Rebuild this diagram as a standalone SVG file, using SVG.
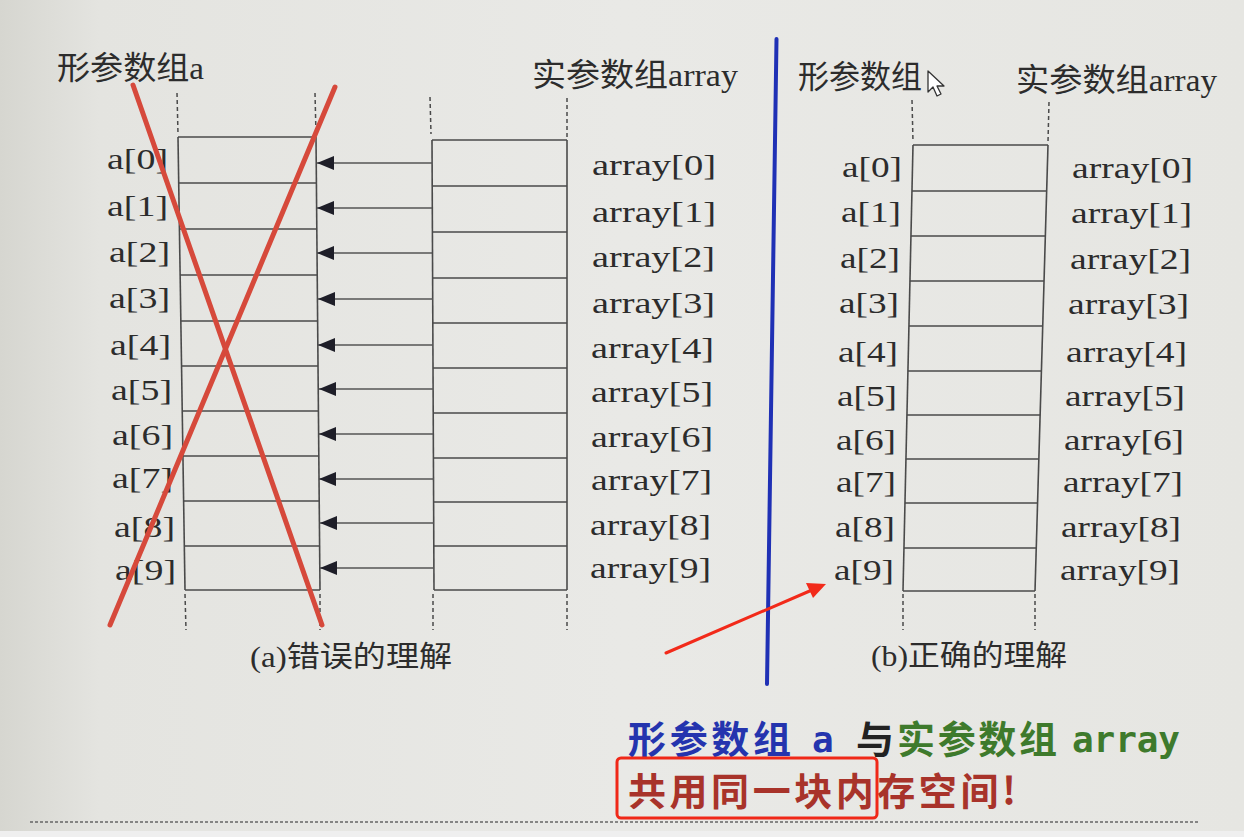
<svg xmlns="http://www.w3.org/2000/svg" width="1244" height="837" viewBox="0 0 1244 837">
<defs>
<linearGradient id="bg" x1="0" y1="0" x2="1" y2="0">
<stop offset="0" stop-color="#d6d6d0"/>
<stop offset="0.08" stop-color="#e4e4e0"/>
<stop offset="0.5" stop-color="#e9e9e6"/>
<stop offset="1" stop-color="#e6e6e2"/>
</linearGradient>
<marker id="tri" markerWidth="17" markerHeight="14" refX="17" refY="7" orient="auto" markerUnits="userSpaceOnUse">
<path d="M0,0 L17,7 L0,14 z" fill="#1e1e28"/>
</marker>
</defs>
<style>
.t{font-family:"Liberation Serif","Noto Sans CJK SC",serif;fill:#2c2c2c}
.h{font-size:32px}
.lb{font-size:30px}
.cap{font-size:29px}
.ln{stroke:#4a4a4a;stroke-width:1.6;fill:none}
.ds{stroke:#4a4a4a;stroke-width:1.5;stroke-dasharray:4 3;fill:none}
.ar{stroke:#555;stroke-width:1.3;fill:none}
.x{stroke:#d6493b;stroke-width:5;stroke-linecap:round}
.big{font-family:"Noto Sans CJK SC",sans-serif;font-weight:bold;font-size:38px}
.mono{font-family:"DejaVu Sans Mono","Liberation Mono",monospace;font-weight:bold;font-size:36px}
</style>
<rect x="0" y="0" width="1244" height="837" fill="url(#bg)"/>
<rect x="0" y="831" width="1244" height="6" fill="#efefef"/>

<!-- Diagram (a) -->
<g id="a-header">
<text class="t h" x="57" y="79" textLength="147" lengthAdjust="spacingAndGlyphs">形参数组a</text>
<text class="t h" x="532" y="86" textLength="206" lengthAdjust="spacingAndGlyphs">实参数组array</text>
</g>
<g id="a-formal-column">
<line class="ds" x1="177" y1="93" x2="178" y2="134"/>
<line class="ds" x1="315" y1="93" x2="316" y2="134"/>
<line class="ds" x1="185" y1="594" x2="186" y2="630"/>
<line class="ds" x1="320" y1="594" x2="320" y2="630"/>
<line class="ln" x1="178" y1="137" x2="185" y2="590"/>
<line class="ln" x1="316" y1="137" x2="320" y2="590"/>
<line class="ln" x1="178" y1="137" x2="316" y2="137"/>
<line class="ln" x1="178.7" y1="183" x2="316.4" y2="183"/>
<line class="ln" x1="179.4" y1="229" x2="316.8" y2="229"/>
<line class="ln" x1="180.1" y1="275" x2="317.2" y2="275"/>
<line class="ln" x1="180.8" y1="321" x2="317.6" y2="321"/>
<line class="ln" x1="181.5" y1="366" x2="318" y2="366"/>
<line class="ln" x1="182.2" y1="411" x2="318.4" y2="411"/>
<line class="ln" x1="182.9" y1="456" x2="318.8" y2="456"/>
<line class="ln" x1="183.6" y1="501" x2="319.2" y2="501"/>
<line class="ln" x1="184.3" y1="546" x2="319.6" y2="546"/>
<line class="ln" x1="185" y1="590" x2="320" y2="590"/>
</g>
<g id="a-actual-column">
<line class="ds" x1="430" y1="97" x2="431" y2="134"/>
<line class="ds" x1="567" y1="98" x2="567" y2="137"/>
<line class="ds" x1="433" y1="594" x2="433" y2="630"/>
<line class="ds" x1="567" y1="594" x2="567" y2="630"/>
<line class="ln" x1="432" y1="140" x2="434" y2="590"/>
<line class="ln" x1="567" y1="140" x2="567" y2="590"/>
<line class="ln" x1="432" y1="140" x2="567" y2="140"/>
<line class="ln" x1="432" y1="186" x2="567" y2="186"/>
<line class="ln" x1="432" y1="232" x2="567" y2="232"/>
<line class="ln" x1="433" y1="278" x2="567" y2="278"/>
<line class="ln" x1="433" y1="323" x2="567" y2="323"/>
<line class="ln" x1="433" y1="368" x2="567" y2="368"/>
<line class="ln" x1="433" y1="413" x2="567" y2="413"/>
<line class="ln" x1="433" y1="458" x2="567" y2="458"/>
<line class="ln" x1="434" y1="502" x2="567" y2="502"/>
<line class="ln" x1="434" y1="546" x2="567" y2="546"/>
<line class="ln" x1="434" y1="590" x2="567" y2="590"/>
</g>
<g id="a-connectors">
<line class="ar" x1="432" y1="163" x2="317" y2="163" marker-end="url(#tri)"/>
<line class="ar" x1="432" y1="208" x2="317" y2="208" marker-end="url(#tri)"/>
<line class="ar" x1="432" y1="253" x2="317" y2="253" marker-end="url(#tri)"/>
<line class="ar" x1="433" y1="299" x2="318" y2="299" marker-end="url(#tri)"/>
<line class="ar" x1="433" y1="345" x2="318" y2="345" marker-end="url(#tri)"/>
<line class="ar" x1="433" y1="389" x2="319" y2="389" marker-end="url(#tri)"/>
<line class="ar" x1="433" y1="434" x2="319" y2="434" marker-end="url(#tri)"/>
<line class="ar" x1="434" y1="479" x2="319" y2="479" marker-end="url(#tri)"/>
<line class="ar" x1="434" y1="523" x2="320" y2="523" marker-end="url(#tri)"/>
<line class="ar" x1="434" y1="568" x2="320" y2="568" marker-end="url(#tri)"/>
</g>
<g id="a-formal-labels">
<text class="t lb" x="107" y="169" textLength="61" lengthAdjust="spacingAndGlyphs">a[0]</text>
<text class="t lb" x="107" y="216" textLength="61" lengthAdjust="spacingAndGlyphs">a[1]</text>
<text class="t lb" x="109" y="262" textLength="61" lengthAdjust="spacingAndGlyphs">a[2]</text>
<text class="t lb" x="109" y="308" textLength="61" lengthAdjust="spacingAndGlyphs">a[3]</text>
<text class="t lb" x="110" y="355" textLength="61" lengthAdjust="spacingAndGlyphs">a[4]</text>
<text class="t lb" x="111" y="400" textLength="61" lengthAdjust="spacingAndGlyphs">a[5]</text>
<text class="t lb" x="112" y="445" textLength="61" lengthAdjust="spacingAndGlyphs">a[6]</text>
<text class="t lb" x="112" y="488" textLength="61" lengthAdjust="spacingAndGlyphs">a[7]</text>
<text class="t lb" x="114" y="537" textLength="61" lengthAdjust="spacingAndGlyphs">a[8]</text>
<text class="t lb" x="115" y="580" textLength="61" lengthAdjust="spacingAndGlyphs">a[9]</text>
</g>
<g id="a-actual-labels">
<text class="t lb" x="592" y="175" textLength="124" lengthAdjust="spacingAndGlyphs">array[0]</text>
<text class="t lb" x="592" y="222" textLength="124" lengthAdjust="spacingAndGlyphs">array[1]</text>
<text class="t lb" x="592" y="267" textLength="123" lengthAdjust="spacingAndGlyphs">array[2]</text>
<text class="t lb" x="592" y="313" textLength="123" lengthAdjust="spacingAndGlyphs">array[3]</text>
<text class="t lb" x="591" y="358" textLength="123" lengthAdjust="spacingAndGlyphs">array[4]</text>
<text class="t lb" x="591" y="402" textLength="122" lengthAdjust="spacingAndGlyphs">array[5]</text>
<text class="t lb" x="591" y="447" textLength="122" lengthAdjust="spacingAndGlyphs">array[6]</text>
<text class="t lb" x="591" y="490" textLength="121" lengthAdjust="spacingAndGlyphs">array[7]</text>
<text class="t lb" x="590" y="535" textLength="121" lengthAdjust="spacingAndGlyphs">array[8]</text>
<text class="t lb" x="590" y="578" textLength="121" lengthAdjust="spacingAndGlyphs">array[9]</text>
</g>
<g id="a-cross">
<line class="x" x1="133" y1="85" x2="322" y2="625"/>
<line class="x" x1="335" y1="87" x2="110" y2="625"/>
</g>
<g id="a-caption">
<text class="t cap" x="250" y="667" textLength="202" lengthAdjust="spacingAndGlyphs">(a)错误的理解</text>
</g>

<!-- Divider -->
<g id="divider">
<line x1="776.5" y1="39" x2="767" y2="684" stroke="#1f30b5" stroke-width="4" stroke-linecap="round"/>
</g>

<!-- Diagram (b) -->
<g id="b-header">
<text class="t h" x="798" y="88" textLength="124" lengthAdjust="spacingAndGlyphs">形参数组</text>
<path d="M928,71 L928,92 L933,87 L937,96 L941,94 L937,86 L944,86 Z" fill="#ffffff" stroke="#333" stroke-width="1.3" stroke-linejoin="round"/>
<text class="t h" x="1016" y="91" textLength="201" lengthAdjust="spacingAndGlyphs">实参数组array</text>
</g>
<g id="b-shared-column">
<line class="ds" x1="912" y1="100" x2="913" y2="142"/>
<line class="ds" x1="1049" y1="102" x2="1048" y2="142"/>
<line class="ds" x1="903" y1="594" x2="903" y2="630"/>
<line class="ds" x1="1035" y1="594" x2="1035" y2="630"/>
<line class="ln" x1="913" y1="145" x2="903" y2="591"/>
<line class="ln" x1="1048" y1="145" x2="1035" y2="591"/>
<line class="ln" x1="913" y1="145" x2="1048" y2="145"/>
<line class="ln" x1="912" y1="191" x2="1046.7" y2="191"/>
<line class="ln" x1="911" y1="236" x2="1045.3" y2="236"/>
<line class="ln" x1="910" y1="281" x2="1044" y2="281"/>
<line class="ln" x1="909" y1="326" x2="1042.7" y2="326"/>
<line class="ln" x1="907.9" y1="371" x2="1041.4" y2="371"/>
<line class="ln" x1="906.9" y1="415" x2="1040.1" y2="415"/>
<line class="ln" x1="905.9" y1="459" x2="1038.8" y2="459"/>
<line class="ln" x1="904.9" y1="503" x2="1037.5" y2="503"/>
<line class="ln" x1="903.9" y1="548" x2="1036.2" y2="548"/>
<line class="ln" x1="903" y1="591" x2="1035" y2="591"/>
</g>
<g id="b-formal-labels">
<text class="t lb" x="842" y="177" textLength="60" lengthAdjust="spacingAndGlyphs">a[0]</text>
<text class="t lb" x="841" y="222" textLength="60" lengthAdjust="spacingAndGlyphs">a[1]</text>
<text class="t lb" x="840" y="268" textLength="60" lengthAdjust="spacingAndGlyphs">a[2]</text>
<text class="t lb" x="839" y="313" textLength="60" lengthAdjust="spacingAndGlyphs">a[3]</text>
<text class="t lb" x="838" y="362" textLength="60" lengthAdjust="spacingAndGlyphs">a[4]</text>
<text class="t lb" x="837" y="406" textLength="60" lengthAdjust="spacingAndGlyphs">a[5]</text>
<text class="t lb" x="836" y="450" textLength="60" lengthAdjust="spacingAndGlyphs">a[6]</text>
<text class="t lb" x="836" y="492" textLength="60" lengthAdjust="spacingAndGlyphs">a[7]</text>
<text class="t lb" x="835" y="537" textLength="60" lengthAdjust="spacingAndGlyphs">a[8]</text>
<text class="t lb" x="834" y="580" textLength="60" lengthAdjust="spacingAndGlyphs">a[9]</text>
</g>
<g id="b-actual-labels">
<text class="t lb" x="1072" y="178" textLength="121" lengthAdjust="spacingAndGlyphs">array[0]</text>
<text class="t lb" x="1071" y="223" textLength="121" lengthAdjust="spacingAndGlyphs">array[1]</text>
<text class="t lb" x="1070" y="269" textLength="121" lengthAdjust="spacingAndGlyphs">array[2]</text>
<text class="t lb" x="1068" y="314" textLength="121" lengthAdjust="spacingAndGlyphs">array[3]</text>
<text class="t lb" x="1066" y="362" textLength="121" lengthAdjust="spacingAndGlyphs">array[4]</text>
<text class="t lb" x="1065" y="406" textLength="120" lengthAdjust="spacingAndGlyphs">array[5]</text>
<text class="t lb" x="1064" y="450" textLength="120" lengthAdjust="spacingAndGlyphs">array[6]</text>
<text class="t lb" x="1063" y="492" textLength="120" lengthAdjust="spacingAndGlyphs">array[7]</text>
<text class="t lb" x="1061" y="537" textLength="120" lengthAdjust="spacingAndGlyphs">array[8]</text>
<text class="t lb" x="1060" y="580" textLength="120" lengthAdjust="spacingAndGlyphs">array[9]</text>
</g>
<g id="b-caption">
<text class="t cap" x="871" y="666" textLength="196" lengthAdjust="spacingAndGlyphs">(b)正确的理解</text>
</g>

<!-- Red pointer arrow -->
<g id="pointer">
<line x1="666" y1="653" x2="812" y2="590" stroke="#f22a1a" stroke-width="3" stroke-linecap="round"/>
<path d="M826,584 L806,583 L813,598 Z" fill="#f22a1a"/>
</g>

<!-- Bottom note -->
<g id="note">
<text class="big" x="628" y="753" fill="#2434ae" textLength="163">形参数组</text>
<text class="mono" x="812" y="752" fill="#2434ae">a</text>
<text class="big" x="856" y="753" fill="#222222">与</text>
<text class="big" x="897" y="753" fill="#3e7a2c" textLength="160">实参数组</text>
<text class="mono" x="1072" y="752" fill="#3e7a2c" textLength="108">array</text>
<text class="big" x="628" y="805" fill="#a8332a" textLength="388">共用同一块内存空间!</text>
<rect x="617" y="758" width="260" height="60" rx="4" fill="none" stroke="#f02818" stroke-width="3"/>
</g>
<g id="footer-rule">
<line x1="30" y1="822" x2="1198" y2="822" stroke="#666" stroke-width="1.3" stroke-dasharray="3 2"/>
</g>
</svg>
